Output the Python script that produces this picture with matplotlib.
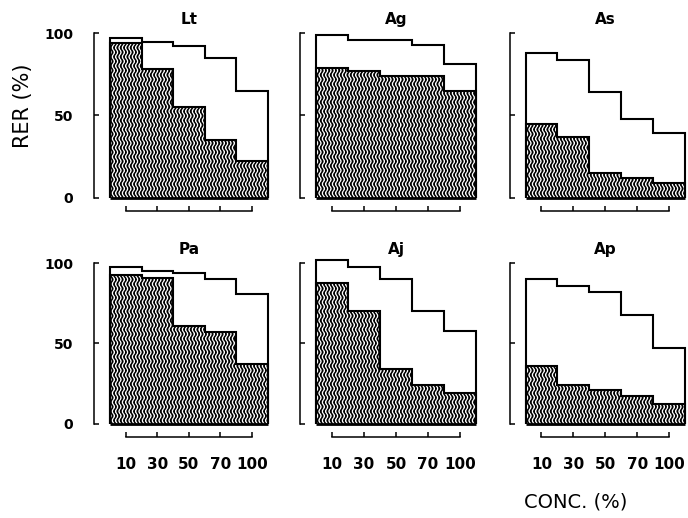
import warnings
warnings.filterwarnings("ignore")
import numpy as np
import matplotlib
matplotlib.use("Agg")
import matplotlib.pyplot as plt
import matplotlib.hatch as mhatch
from matplotlib.path import Path

# ---------------- data ----------------
panels = ["Lt", "Ag", "As", "Pa", "Aj", "Ap"]
conc_labels = ["10", "30", "50", "70", "100"]

lt_total = [97, 95, 92, 85, 65]
lt_hatched = [94, 78, 55, 35, 22]
ag_total = [99, 96, 96, 93, 81]
ag_hatched = [79, 77, 74, 74, 65]
as_total = [88, 84, 64, 48, 39]
as_hatched = [45, 37, 15, 12, 9]
pa_total = [98, 95, 94, 90, 81]
pa_hatched = [93, 91, 61, 57, 37]
aj_total = [102, 98, 90, 70, 58]
aj_hatched = [88, 70, 34, 24, 19]
ap_total = [90, 86, 82, 68, 47]
ap_hatched = [36, 24, 21, 17, 12]

y_ticks = [0, 50, 100]
y_labels = ["0", "50", "100"]


# ---------------- wavy hatch ----------------
class WavyHatch(mhatch.HatchPatternBase):
    n_seg = 88
    cycles = 11
    amp = 0.012

    def __init__(self, hatch, density):
        self.num_lines = int(hatch.count('~') * density)
        self.num_vertices = self.num_lines * (self.n_seg + 1)

    def set_vertices_and_codes(self, vertices, codes):
        xs = np.linspace(0.0, 1.0, self.num_lines, endpoint=False) + 0.5 / max(self.num_lines, 1)
        t = np.linspace(0.0, 1.0, self.n_seg + 1)
        wave = self.amp * np.sin(2 * np.pi * self.cycles * t)
        k = self.n_seg + 1
        for i, x0 in enumerate(xs):
            vertices[i * k:(i + 1) * k, 0] = x0 + wave
            vertices[i * k:(i + 1) * k, 1] = t
            codes[i * k] = Path.MOVETO
            codes[i * k + 1:(i + 1) * k] = Path.LINETO


mhatch._hatch_types.append(WavyHatch)

plt.rcParams['hatch.linewidth'] = 1.1
plt.rcParams['font.family'] = ['DejaVu Sans']

data = [(lt_total, lt_hatched), (ag_total, ag_hatched), (as_total, as_hatched),
        (pa_total, pa_hatched), (aj_total, aj_hatched), (ap_total, ap_hatched)]

W, H = 688, 518
fig = plt.figure(figsize=(W / 100, H / 100), dpi=100)

cols = [(110, 267.5), (316, 476), (525.5, 685)]
rows = [(197.5, 33.3), (423.5, 263.3)]
ytop = 104

edges = np.arange(len(conc_labels) + 1) - 0.5
centers = np.arange(len(conc_labels))

for idx, (name, (tot, hat)) in enumerate(zip(panels, data)):
    r, c = divmod(idx, 3)
    x0, x1 = cols[c]
    y0, y100 = rows[r]
    scale = (y0 - y100) / 100.0
    ax = fig.add_axes([x0 / W, (H - y0) / H, (x1 - x0) / W, scale * ytop / H])
    ax.set_xlim(edges[0], edges[-1])
    ax.set_ylim(0, ytop)
    ax.patch.set_alpha(0)

    ax.stairs(tot, edges, baseline=0, fill=True, facecolor='white',
              edgecolor='black', lw=1.5, clip_on=False, zorder=2)
    ax.stairs(hat, edges, baseline=0, fill=True, facecolor='white',
              edgecolor='black', hatch='~~~~~', lw=1.5, clip_on=False, zorder=3)
    ax.hlines(0, edges[0], edges[-1], color='black', lw=2, clip_on=False, zorder=4)

    for s in ['top', 'right']:
        ax.spines[s].set_visible(False)
    ax.spines['left'].set_position(('outward', 11.5))
    ax.spines['bottom'].set_position(('outward', 10))
    ax.spines['left'].set_bounds(0, 100)
    ax.spines['bottom'].set_bounds(centers[0], centers[-1])
    for s in ['left', 'bottom']:
        ax.spines[s].set_linewidth(1.1)

    ax.set_yticks(y_ticks)
    ax.set_yticklabels(y_labels, fontsize=10, fontweight='bold')
    ax.set_xticks(centers)
    ax.set_xticklabels(conc_labels, fontsize=11, fontweight='bold')
    ax.tick_params(axis='y', direction='in', length=3.5, width=1.1, pad=15)
    ax.tick_params(axis='x', direction='in', length=3.5, width=1.1, pad=14)
    if c != 0:
        ax.tick_params(axis='y', labelleft=False)
    if r == 0:
        ax.tick_params(axis='x', labelbottom=False)

    ax.annotate(name, xy=(0.5, 100), xycoords=('axes fraction', 'data'),
                xytext=(0, 6.5), textcoords='offset points',
                ha='center', va='baseline', fontsize=11, fontweight='bold')

fig.text(23 / W, 1 - 106 / H, "RER (%)", rotation=90, ha='center', va='center', fontsize=15)
fig.text(576 / W, 1 - 502 / H, "CONC. (%)", ha='center', va='center', fontsize=14)

fig.savefig("out.png", dpi=100)
